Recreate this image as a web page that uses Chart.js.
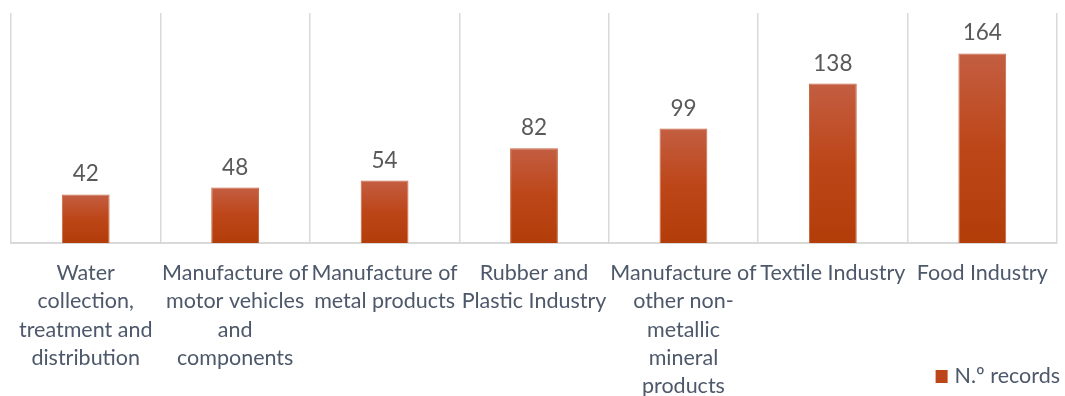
<!DOCTYPE html>
<html>
<head>
<meta charset="utf-8">
<script src="https://cdn.jsdelivr.net/npm/chart.js@4.4.1/dist/chart.umd.min.js"></script>
<style>
  html, body { margin: 0; padding: 0; background: #fff; }
  #wrap { width: 1065px; height: 396px; }
</style>
</head>
<body>
<div id="wrap"><canvas id="records"></canvas></div>
<script>
// sectors, wrapped the way they appear under each bar
const sectors = [
    ['Water', 'collection,', 'treatment and', 'distribution'],
    ['Manufacture of', 'motor vehicles', 'and', 'components'],
    ['Manufacture of', 'metal products'],
    ['Rubber and', 'Plastic Industry'],
    ['Manufacture of', 'other non-', 'metallic', 'mineral', 'products'],
    ['Textile Industry'],
    ['Food Industry']
];
const records = [42, 48, 54, 82, 99, 138, 164];
const seriesName = 'N.º records';

const FONT = 'Lato, "Open Sans", sans-serif';

// per-bar vertical gradient, lighter at the top
const barFill = (context) => {
    const chart = context.chart;
    const y = chart.scales.y;
    if (!chart.chartArea || !y || context.type !== 'data') return '#bc4514';
    const top = y.getPixelForValue(context.raw);
    const bottom = y.getPixelForValue(0);
    const g = chart.ctx.createLinearGradient(0, top, 0, bottom);
    g.addColorStop(0, '#c35e42');
    g.addColorStop(0.5, '#bd4618');
    g.addColorStop(1, '#b23d09');
    return g;
};

// value above each bar
const valueLabels = {
    id: 'valueLabels',
    afterDatasetsDraw(chart) {
        const ctx = chart.ctx;
        const meta = chart.getDatasetMeta(0);
        ctx.save();
        ctx.font = '22.5px ' + FONT;
        ctx.fillStyle = '#595959';
        ctx.textAlign = 'center';
        ctx.textBaseline = 'alphabetic';
        meta.data.forEach((bar, i) => {
            ctx.fillText(String(chart.data.datasets[0].data[i]), bar.x, bar.y - 13);
        });
        ctx.restore();
    }
};

// legend in the bottom right corner
const cornerLegend = {
    id: 'cornerLegend',
    afterDraw(chart) {
        const ctx = chart.ctx;
        const ds = chart.data.datasets[0];
        ctx.save();
        ctx.font = '21.5px ' + FONT;
        const w = ctx.measureText(ds.label).width;
        const tx = chart.width - 5 - w;
        const ty = 376;
        ctx.fillStyle = '#bd4618';
        ctx.fillRect(tx - 19, ty - 6, 12, 13);
        ctx.fillStyle = '#4d586a';
        ctx.textAlign = 'left';
        ctx.textBaseline = 'middle';
        ctx.fillText(ds.label, tx, ty);
        ctx.restore();
    }
};

new Chart(document.getElementById('records'), {
    type: 'bar',
    data: {
        labels: sectors,
        datasets: [{
            label: seriesName,
            data: records,
            backgroundColor: barFill,
            borderColor: '#c9653f',
            borderWidth: 1,
            categoryPercentage: 1,
            barPercentage: 0.32
        }]
    },
    options: {
        responsive: true,
        maintainAspectRatio: false,
        animation: false,
        layout: { padding: { left: 11, right: 8, top: 13, bottom: 0 } },
        plugins: {
            legend: { display: false },
            tooltip: { enabled: false }
        },
        scales: {
            x: {
                grid: { color: '#d9d9d9', lineWidth: 1.5, drawTicks: false, offset: true },
                border: { display: true, color: '#d9d9d9', width: 2 },
                ticks: {
                    autoSkip: false,
                    maxRotation: 0,
                    padding: 16,
                    color: '#4d586a',
                    font: { family: FONT, size: 21.5, lineHeight: '28.3px' }
                },
                afterFit(scale) { scale.height = 153; }
            },
            y: {
                display: false,
                min: 0,
                max: 199
            }
        }
    },
    plugins: [valueLabels, cornerLegend]
});
</script>
</body>
</html>
